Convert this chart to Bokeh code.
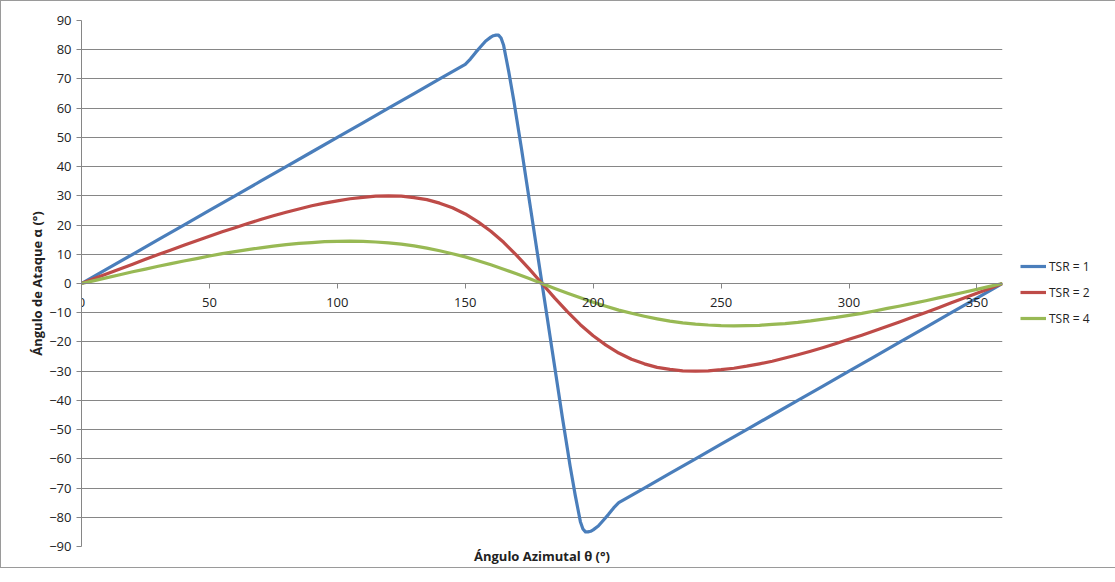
from bokeh.plotting import figure
from bokeh.models import Legend, LegendItem, LinearAxis, FixedTicker, Range1d
from bokeh.embed import file_html
from bokeh.resources import INLINE

# --- data ---
theta_blue = [0, 10, 20, 30, 40, 50, 60, 70, 80, 90, 100, 110, 120, 130, 140, 150,
              152, 154, 156, 158, 160, 161, 162, 163, 164, 165, 166, 167, 168, 169, 170,
              172, 174, 176, 178, 180, 182, 184, 186, 188, 190, 191, 192, 193, 194, 195,
              196, 197, 198, 199, 200, 202, 204, 206, 208, 210, 220, 230, 240, 250, 260,
              270, 280, 290, 300, 310, 320, 330, 340, 350, 360]
alpha_tsr1 = [0, 5, 10, 15, 20, 25, 30, 35, 40, 45, 50, 55, 60, 65, 70, 75,
              76.8, 79, 81, 83, 84.3, 84.8, 85, 85, 84, 81.5, 77, 72.5, 67.5, 62.5, 57,
              46, 34.5, 23, 11.5, 0, -11.5, -23, -34.5, -46, -57, -62.5, -67.5, -72.5, -77, -81.5,
              -84, -85, -85, -84.8, -84.3, -83, -81, -79, -76.8, -75, -70, -65, -60, -55, -50,
              -45, -40, -35, -30, -25, -20, -15, -10, -5, 0]

theta = [0, 5, 10, 15, 20, 25, 30, 35, 40, 45, 50, 55, 60, 65, 70, 75, 80, 85, 90,
         95, 100, 105, 110, 115, 120, 125, 130, 135, 140, 145, 150, 155, 160, 165, 170, 175, 180,
         185, 190, 195, 200, 205, 210, 215, 220, 225, 230, 235, 240, 245, 250, 255, 260, 265, 270,
         275, 280, 285, 290, 295, 300, 305, 310, 315, 320, 325, 330, 335, 340, 345, 350, 355, 360]
alpha_tsr2 = [0, 1.7, 3.3, 5.0, 6.6, 8.3, 9.9, 11.5, 13.1, 14.6, 16.2, 17.7, 19.1, 20.5, 21.9,
              23.2, 24.4, 25.5, 26.6, 27.5, 28.3, 29.0, 29.5, 29.9, 30.0, 29.9, 29.4, 28.7, 27.5,
              25.9, 23.8, 21.1, 17.9, 14.1, 9.7, 5.0, 0,
              -5.0, -9.7, -14.1, -17.9, -21.1, -23.8, -25.9, -27.5, -28.7, -29.4, -29.9, -30.0,
              -29.9, -29.5, -29.0, -28.3, -27.5, -26.6, -25.5, -24.4, -23.2, -21.9, -20.5, -19.1,
              -17.7, -16.2, -14.6, -13.1, -11.5, -9.9, -8.3, -6.6, -5.0, -3.3, -1.7, 0]
alpha_tsr4 = [0, 1.0, 2.0, 3.0, 4.0, 4.9, 5.9, 6.8, 7.7, 8.5, 9.4, 10.2, 10.9, 11.6, 12.2,
              12.8, 13.3, 13.7, 14.0, 14.3, 14.4, 14.5, 14.4, 14.2, 13.9, 13.5, 12.9, 12.1, 11.2,
              10.2, 9.1, 7.8, 6.4, 4.9, 3.3, 1.7, 0,
              -1.7, -3.3, -4.9, -6.4, -7.8, -9.1, -10.2, -11.2, -12.1, -12.9, -13.5, -13.9,
              -14.2, -14.4, -14.5, -14.4, -14.3, -14.0, -13.7, -13.3, -12.8, -12.2, -11.6, -10.9,
              -10.2, -9.4, -8.5, -7.7, -6.8, -5.9, -4.9, -4.0, -3.0, -2.0, -1.0, 0]

series_names = ["TSR = 1", "TSR = 2", "TSR = 4"]
x_ticks = [0, 50, 100, 150, 200, 250, 300, 350]
y_ticks = list(range(-90, 91, 10))

FONT = "Open Sans"
GRAY = "#868686"
TXT = "#222222"

p = figure(frame_width=921, frame_height=526, output_backend="svg", toolbar_location=None,
           x_range=Range1d(0, 360), y_range=Range1d(-90, 90),
           min_border_left=80, min_border_top=19, min_border_right=96, min_border_bottom=19,
           x_axis_location=None, y_axis_location=None)
p.styles = {"border": "1px solid #9a9a9a"}
p.outline_line_color = None
p.background_fill_color = "white"
p.border_fill_color = "white"

# y axis
yaxis = LinearAxis(ticker=FixedTicker(ticks=y_ticks))
yaxis.axis_line_color = GRAY
yaxis.major_tick_line_color = GRAY
yaxis.major_tick_out = 5
yaxis.major_tick_in = 0
yaxis.minor_tick_line_color = None
yaxis.major_label_text_font = FONT
yaxis.major_label_text_font_size = "13px"
yaxis.major_label_text_color = TXT
yaxis.major_label_standoff = 5
yaxis.axis_label = "Ángulo de Ataque α (°)"
yaxis.axis_label_text_font = FONT
yaxis.axis_label_text_font_style = "bold"
yaxis.axis_label_text_font_size = "13px"
yaxis.axis_label_text_color = TXT
yaxis.axis_label_standoff = 0
p.add_layout(yaxis, "left")

# x axis at y = 0
xaxis = LinearAxis(ticker=FixedTicker(ticks=x_ticks), fixed_location=0)
xaxis.axis_line_color = GRAY
xaxis.major_tick_line_color = GRAY
xaxis.major_tick_out = 5
xaxis.major_tick_in = 0
xaxis.minor_tick_line_color = None
xaxis.major_label_text_font = FONT
xaxis.major_label_text_font_size = "13px"
xaxis.major_label_text_color = TXT
xaxis.major_label_standoff = 9
p.add_layout(xaxis, "below")

# bottom axis only for the title
xtitle = LinearAxis(ticker=FixedTicker(ticks=[]))
xtitle.axis_line_color = None
xtitle.major_tick_line_color = None
xtitle.minor_tick_line_color = None
xtitle.major_label_text_font_size = "0px"
xtitle.axis_label = "Ángulo Azimutal θ (°)"
xtitle.axis_label_text_font = FONT
xtitle.axis_label_text_font_style = "bold"
xtitle.axis_label_text_font_size = "13px"
xtitle.axis_label_text_color = TXT
xtitle.axis_label_standoff = 0
p.add_layout(xtitle, "below")

p.xgrid.visible = False
p.ygrid.ticker = FixedTicker(ticks=y_ticks)
p.ygrid.grid_line_color = GRAY
p.ygrid.grid_line_width = 1

r1 = p.line(theta_blue, alpha_tsr1, line_color="#4A7EBB", line_width=3.2, line_join="round")
r2 = p.line(theta, alpha_tsr2, line_color="#BE4B48", line_width=3.2, line_join="round")
r4 = p.line(theta, alpha_tsr4, line_color="#98B954", line_width=3.2, line_join="round")

legend = Legend(items=[LegendItem(label=series_names[0], renderers=[r1]),
                       LegendItem(label=series_names[1], renderers=[r2]),
                       LegendItem(label=series_names[2], renderers=[r4])],
                location=(18, 218), border_line_color=None, background_fill_alpha=0,
                label_text_font=FONT, label_text_font_size="12px", label_text_color=TXT,
                glyph_width=26, glyph_height=20, spacing=6, label_standoff=3,
                padding=2, margin=0)
p.add_layout(legend, "right")

open("out.html", "w").write(file_html(p, INLINE))
